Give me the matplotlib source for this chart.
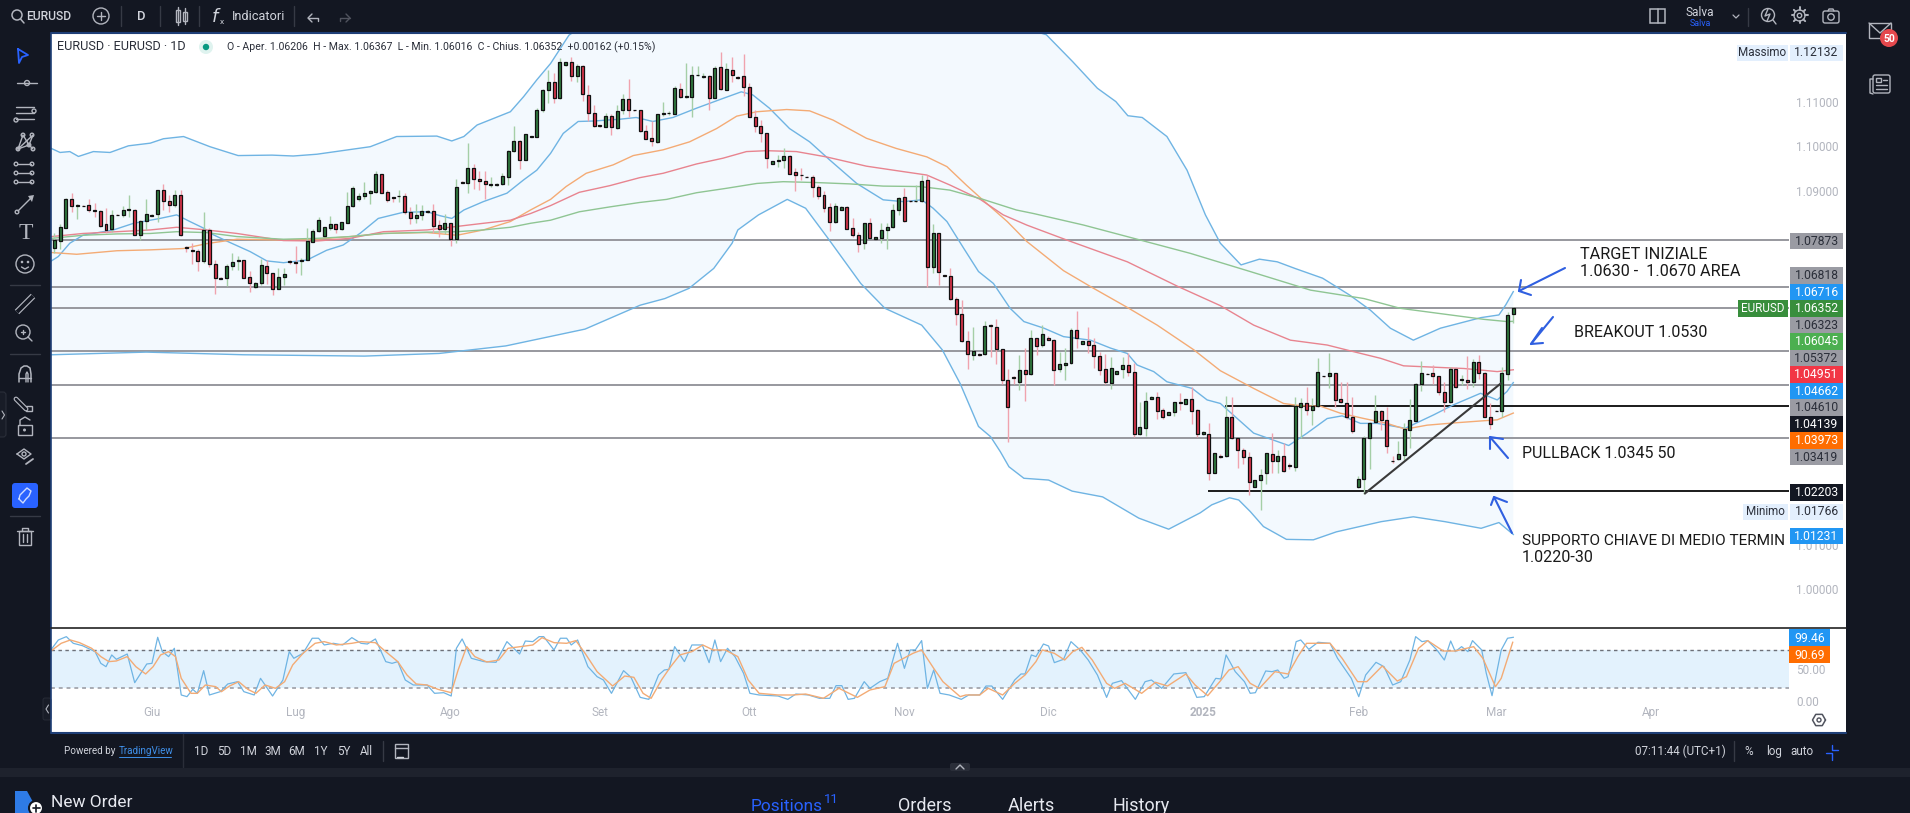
import numpy as np
import matplotlib
matplotlib.use("Agg")
import matplotlib.pyplot as plt
from matplotlib.patches import Rectangle, Circle, FancyBboxPatch, Polygon

plt.rcParams['font.family'] = ['Roboto', 'DejaVu Sans']

## OHLC, daily bars
opens = [1.0771,1.0787,1.0816,1.0882,1.0866,1.0866,1.0867,1.0857,1.0854,1.0824,
1.0812,1.0845,1.0845,1.0857,1.0857,1.0800,1.0831,1.0843,1.0848,1.0901,
1.0877,1.0868,1.0890,1.0772,1.0766,1.0764,1.0740,1.0811,1.0735,1.0703,
1.0702,1.0729,1.0740,1.0742,1.0704,1.0681,1.0690,1.0730,1.0713,1.0678,
1.0704,1.0741,1.0738,1.0740,1.0742,1.0784,1.0809,1.0798,1.0816,1.0824,
1.0812,1.0827,1.0865,1.0880,1.0887,1.0894,1.0897,1.0937,1.0896,1.0885,
1.0887,1.0888,1.0852,1.0839,1.0844,1.0851,1.0854,1.0822,1.0812,1.0826,
1.0790,1.0920,1.0918,1.0950,1.0927,1.0921,1.0913,1.0912,1.0915,1.0931,
1.0990,1.1011,1.0970,1.1020,1.1022,1.1083,1.1126,1.1146,1.1110,1.1183,
1.1190,1.1158,1.1182,1.1115,1.1076,1.1047,1.1044,1.1068,1.1042,1.1081,
1.1106,1.1082,1.1081,1.1035,1.1018,1.1010,1.1074,1.1075,1.1074,1.1129,
1.1112,1.1112,1.1160,1.1156,1.1159,1.1110,1.1178,1.1127,1.1172,1.1157,
1.1159,1.1135,1.1067,1.1046,1.1031,1.0961,1.0966,1.0970,1.0978,1.0941,
1.0935,1.0931,1.0931,1.0907,1.0891,1.0862,1.0830,1.0857,1.0863,1.0815,
1.0799,1.0781,1.0826,1.0790,1.0793,1.0810,1.0818,1.0857,1.0885,1.0877,
1.0876,1.0876,1.0923,1.0728,1.0803,1.0709,1.0708,1.0654,1.0620,1.0560,
1.0529,1.0531,1.0530,1.0597,1.0592,1.0541,1.0473,1.0478,1.0468,1.0494,
1.0485,1.0566,1.0550,1.0566,1.0562,1.0496,1.0506,1.0510,1.0584,1.0553,
1.0561,1.0552,1.0526,1.0496,1.0466,1.0485,1.0496,1.0507,1.0491,1.0349,
1.0364,1.0428,1.0433,1.0404,1.0394,1.0399,1.0422,1.0417,1.0428,1.0404,
1.0349,1.0351,1.0263,1.0301,1.0301,1.0389,1.0340,1.0315,1.0299,1.0231,
1.0245,1.0261,1.0305,1.0290,1.0300,1.0280,1.0276,1.0412,1.0421,1.0404,
1.0413,1.0481,1.0481,1.0487,1.0428,1.0419,1.0388,1.0231,1.0248,1.0342,
1.0377,1.0403,1.0381,1.0290,1.0293,1.0303,1.0359,1.0380,1.0464,1.0486,
1.0487,1.0480,1.0446,1.0423,1.0496,1.0473,1.0473,1.0467,1.0512,1.0487,
1.0389,1.0403,1.0402,1.0485,1.06206]
highs = [1.0805,1.0824,1.0883,1.0894,1.0869,1.0867,1.0882,1.0871,1.0857,1.0860,
1.0856,1.0846,1.0866,1.0889,1.0858,1.0833,1.0881,1.0846,1.0902,1.0915,
1.0890,1.0901,1.0901,1.0775,1.0781,1.0769,1.0851,1.0815,1.0743,1.0704,
1.0735,1.0760,1.0751,1.0743,1.0719,1.0694,1.0745,1.0743,1.0713,1.0724,
1.0724,1.0743,1.0775,1.0747,1.0815,1.0812,1.0841,1.0818,1.0842,1.0824,
1.0830,1.0897,1.0911,1.0894,1.0920,1.0901,1.0945,1.0937,1.0901,1.0886,
1.0901,1.0895,1.0863,1.0869,1.0867,1.0857,1.0870,1.0833,1.0848,1.0827,
1.0925,1.0921,1.1007,1.0961,1.0945,1.0945,1.0930,1.0916,1.0939,1.0992,
1.1046,1.1014,1.1028,1.1024,1.1086,1.1129,1.1172,1.1165,1.1199,1.1191,
1.1201,1.1186,1.1184,1.1138,1.1093,1.1048,1.1076,1.1073,1.1093,1.1118,
1.1153,1.1083,1.1083,1.1048,1.1056,1.1074,1.1101,1.1080,1.1137,1.1144,
1.1187,1.1181,1.1181,1.1165,1.1161,1.1181,1.1212,1.1187,1.1201,1.1158,
1.1208,1.1142,1.1082,1.1059,1.1031,1.0967,1.0980,1.0995,1.0980,1.0952,
1.0952,1.0932,1.0935,1.0912,1.0899,1.0871,1.0871,1.0864,1.0865,1.0837,
1.0807,1.0827,1.0837,1.0794,1.0826,1.0826,1.0870,1.0886,1.0906,1.0878,
1.0912,1.0935,1.0935,1.0824,1.0803,1.0710,1.0726,1.0660,1.0653,1.0583,
1.0591,1.0532,1.0605,1.0599,1.0609,1.0541,1.0496,1.0481,1.0528,1.0544,
1.0586,1.0568,1.0596,1.0572,1.0564,1.0536,1.0544,1.0589,1.0629,1.0560,
1.0592,1.0566,1.0536,1.0531,1.0523,1.0493,1.0525,1.0532,1.0511,1.0422,
1.0446,1.0435,1.0444,1.0408,1.0400,1.0423,1.0443,1.0428,1.0457,1.0406,
1.0357,1.0374,1.0306,1.0305,1.0436,1.0433,1.0342,1.0318,1.0310,1.0246,
1.0272,1.0306,1.0353,1.0314,1.0329,1.0284,1.0433,1.0431,1.0457,1.0431,
1.0521,1.0482,1.0532,1.0487,1.0468,1.0467,1.0433,1.0255,1.0346,1.0378,
1.0439,1.0404,1.0412,1.0301,1.0335,1.0374,1.0428,1.0466,1.0515,1.0487,
1.0506,1.0481,1.0468,1.0501,1.0502,1.0483,1.0527,1.0519,1.0528,1.0489,
1.0419,1.0404,1.0502,1.0626,1.06367]
lows = [1.0758,1.0767,1.0815,1.0852,1.0835,1.0864,1.0852,1.0841,1.0818,1.0803,
1.0807,1.0844,1.0841,1.0841,1.0799,1.0788,1.0811,1.0842,1.0830,1.0857,
1.0852,1.0863,1.0797,1.0762,1.0734,1.0719,1.0737,1.0728,1.0666,1.0700,
1.0684,1.0720,1.0720,1.0702,1.0670,1.0679,1.0687,1.0689,1.0664,1.0677,
1.0687,1.0735,1.0713,1.0709,1.0742,1.0784,1.0807,1.0796,1.0811,1.0805,
1.0811,1.0826,1.0863,1.0877,1.0882,1.0870,1.0895,1.0894,1.0875,1.0875,
1.0873,1.0848,1.0824,1.0827,1.0833,1.0850,1.0803,1.0796,1.0802,1.0775,
1.0782,1.0918,1.0894,1.0903,1.0901,1.0882,1.0909,1.0911,1.0912,1.0912,
1.0988,1.0949,1.0969,1.1020,1.1022,1.1078,1.1097,1.1098,1.1106,1.1181,
1.1148,1.1146,1.1103,1.1056,1.1043,1.1044,1.1043,1.1026,1.1040,1.1073,
1.1065,1.1080,1.1033,1.1016,1.1001,1.1007,1.1068,1.1071,1.1073,1.1110,
1.1110,1.1067,1.1159,1.1154,1.1083,1.1108,1.1127,1.1126,1.1146,1.1153,
1.1113,1.1065,1.1032,1.1009,1.0950,1.0960,1.0954,1.0950,1.0937,1.0900,
1.0924,1.0930,1.0886,1.0880,1.0852,1.0809,1.0826,1.0857,1.0812,1.0796,
1.0762,1.0769,1.0792,1.0790,1.0781,1.0768,1.0816,1.0844,1.0830,1.0875,
1.0875,1.0875,1.0683,1.0713,1.0687,1.0707,1.0653,1.0596,1.0557,1.0496,
1.0517,1.0527,1.0528,1.0523,1.0508,1.0463,1.0333,1.0463,1.0449,1.0425,
1.0483,1.0528,1.0547,1.0562,1.0461,1.0491,1.0472,1.0509,1.0544,1.0553,
1.0532,1.0498,1.0483,1.0463,1.0452,1.0485,1.0476,1.0480,1.0344,1.0348,
1.0345,1.0428,1.0385,1.0383,1.0394,1.0391,1.0404,1.0417,1.0373,1.0344,
1.0348,1.0246,1.0263,1.0295,1.0299,1.0339,1.0274,1.0282,1.0212,1.0231,
1.0178,1.0237,1.0263,1.0261,1.0265,1.0270,1.0266,1.0342,1.0392,1.0371,
1.0412,1.0479,1.0455,1.0412,1.0419,1.0385,1.0352,1.0229,1.0214,1.0272,
1.0375,1.0359,1.0306,1.0284,1.0291,1.0291,1.0318,1.0379,1.0448,1.0485,
1.0464,1.0438,1.0400,1.0421,1.0455,1.0461,1.0452,1.0457,1.0474,1.0388,
1.0361,1.0401,1.0389,1.0471,1.06016]
closes = [1.0788,1.0817,1.0882,1.0865,1.0867,1.0865,1.0856,1.0854,1.0821,1.0811,
1.0845,1.0844,1.0855,1.0858,1.0800,1.0831,1.0846,1.0845,1.0901,1.0876,
1.0868,1.0890,1.0799,1.0771,1.0764,1.0741,1.0811,1.0735,1.0702,1.0701,
1.0730,1.0739,1.0743,1.0703,1.0690,1.0690,1.0731,1.0713,1.0678,1.0704,
1.0711,1.0738,1.0736,1.0743,1.0785,1.0809,1.0833,1.0817,1.0824,1.0812,
1.0829,1.0865,1.0905,1.0888,1.0894,1.0898,1.0937,1.0895,1.0878,1.0884,
1.0888,1.0851,1.0839,1.0845,1.0854,1.0854,1.0821,1.0812,1.0826,1.0790,
1.0909,1.0918,1.0952,1.0927,1.0921,1.0915,1.0914,1.0915,1.0932,1.0990,
1.1011,1.0970,1.1027,1.1023,1.1082,1.1127,1.1146,1.1110,1.1191,1.1190,
1.1159,1.1182,1.1117,1.1076,1.1046,1.1045,1.1068,1.1043,1.1080,1.1106,
1.1083,1.1081,1.1034,1.1017,1.1012,1.1073,1.1075,1.1076,1.1131,1.1112,
1.1114,1.1160,1.1161,1.1159,1.1110,1.1176,1.1129,1.1174,1.1160,1.1154,
1.1135,1.1067,1.1046,1.1031,1.0973,1.0967,1.0970,1.0978,1.0938,1.0935,
1.0934,1.0930,1.0907,1.0888,1.0861,1.0830,1.0866,1.0863,1.0814,1.0799,
1.0780,1.0826,1.0793,1.0794,1.0811,1.0818,1.0857,1.0884,1.0831,1.0876,
1.0877,1.0921,1.0728,1.0803,1.0717,1.0708,1.0654,1.0620,1.0559,1.0530,
1.0537,1.0528,1.0595,1.0593,1.0541,1.0473,1.0412,1.0477,1.0495,1.0485,
1.0566,1.0549,1.0575,1.0563,1.0495,1.0508,1.0510,1.0584,1.0566,1.0560,
1.0552,1.0526,1.0494,1.0468,1.0500,1.0492,1.0507,1.0491,1.0349,1.0365,
1.0425,1.0434,1.0403,1.0389,1.0400,1.0422,1.0421,1.0428,1.0403,1.0351,
1.0354,1.0263,1.0306,1.0299,1.0389,1.0340,1.0315,1.0299,1.0241,1.0246,
1.0257,1.0306,1.0290,1.0301,1.0266,1.0278,1.0413,1.0421,1.0404,1.0414,
1.0489,1.0480,1.0487,1.0426,1.0422,1.0388,1.0357,1.0248,1.0342,1.0375,
1.0403,1.0381,1.0324,1.0288,1.0304,1.0361,1.0381,1.0464,1.0487,1.0485,
1.0480,1.0446,1.0423,1.0496,1.0457,1.0474,1.0467,1.0512,1.0488,1.0389,
1.0372,1.0402,1.0487,1.0618,1.06352]

## Bollinger bands and moving averages: bar position, value
upper_bar = [-0.5,1,2.7,4.2,6.8,9.7,12.9,16.7,19,22.5,27.1,32,37.9,41.6,45.7,55,59.6,66.6,69.2,71.3,73.6,79.4,81.7,84,86.4,89.6,
100,130,160,172.7,177.3,181.6,184.8,186.9,189.4,193.7,197.2,200.4,203,206.6,209.8,212.9,216,220.8,225.5,229.1,232.6,236.6,241.3,248.4,251.5,252.7,254]
upper_val = [1.0995,1.0986,1.0988,1.0977,1.0988,1.0986,1.1001,1.1007,1.1017,1.1022,1.0999,1.0979,1.0980,1.0978,1.0982,1.0999,1.1022,1.1023,1.1012,1.1022,1.1048,1.1078,1.1112,1.1150,1.1187,1.1251,
1.1340,1.1360,1.1300,1.1252,1.1191,1.1131,1.1101,1.1069,1.1065,1.1022,1.0946,1.0845,1.0781,1.0732,1.0745,1.0739,1.0724,1.0702,1.0664,1.0630,1.0589,1.0562,1.0589,1.0613,1.0619,1.0642,1.06716]
lower_bar = [-0.5,16,33,54,67,78.6,92.4,102,106.3,110.5,114.8,118,119,122.6,127.6,130.8,134.7,140.4,144.6,151,154.6,157.7,160.9,163,164.7,166.2,168.8,173.1,177.2,182.5,188.8,194,199.5,201.5,204.6,206.2,208.2,210.5,214.5,219.2,223.2,231,236.6,242.1,248.4,251.5,254]
lower_val = [1.0529,1.0535,1.0529,1.0526,1.0532,1.0549,1.0587,1.0641,1.0656,1.0679,1.0724,1.0781,1.0811,1.0845,1.0880,1.0860,1.0792,1.0690,1.0634,1.0596,1.0540,1.0464,1.0367,1.0344,1.0310,1.0276,1.0250,1.0246,1.0221,1.0208,1.0160,1.0135,1.0172,1.0190,1.0206,1.0201,1.0175,1.0141,1.0112,1.0111,1.0129,1.0152,1.0163,1.0152,1.0137,1.0150,1.01231]
basis_bar = [-0.5,0.7,2.7,5,10.3,13.8,18.4,21.3,23.6,26,27.7,30,34.1,37,39.9,44,47.4,50.3,53.3,56.4,60.8,64.9,67.2,69.2,71.3,74.7,78.8,81.7,84,86.4,88.6,91.2,93.8,98.4,101.3,104.2,107.7,111.8,116.4,119.6,121.6,124.5,128,131.5,135,139.7,144.3,147.8,151,153,155.4,158.3,160.9,163.5,166.4,168.8,172.3,175.7,180.4,183.9,186.8,188.5,191.4,193.7,198.1,200.7,203,208.8,214.9,218.1,221.6,224.2,227.4,230.3,235.2,240.1,243.6,248.3,251.2,252.9,254]
basis_val = [1.0741,1.0751,1.0781,1.0799,1.0811,1.0826,1.0837,1.0845,1.0830,1.0815,1.0800,1.0786,1.0762,1.0741,1.0737,1.0743,1.0765,1.0777,1.0804,1.0837,1.0851,1.0852,1.0843,1.0837,1.0856,1.0875,1.0894,1.0924,1.0946,1.0984,1.1029,1.1056,1.1057,1.1061,1.1065,1.1056,1.1065,1.1086,1.1108,1.1123,1.1116,1.1086,1.1040,1.1010,1.0969,1.0916,1.0879,1.0875,1.0879,1.0860,1.0830,1.0770,1.0717,1.0690,1.0634,1.0604,1.0589,1.0570,1.0562,1.0544,1.0532,1.0506,1.0491,1.0468,1.0453,1.0427,1.0419,1.0352,1.0324,1.0352,1.0385,1.0391,1.0374,1.0374,1.0363,1.0393,1.0416,1.0442,1.0427,1.0446,1.04662]
orange_bar = [-0.5,3.9,10.9,16.7,22.5,26.5,31.8,39.9,45.7,51.5,57.3,64.9,70.1,74.7,79.4,82.9,86.4,89.1,92.6,97.3,100.8,106,110.6,115.3,118.8,122.3,127.5,131.5,135.6,141.4,146.6,151.9,155.4,158.8,162.3,165.9,169.3,175.7,180.4,186.8,192,198.4,203,208.8,214,216.9,220.4,223.9,228,232,235.2,239,243.6,248.9,251.2,254]
orange_val = [1.0760,1.0756,1.0764,1.0766,1.0769,1.0780,1.0790,1.0788,1.0790,1.0796,1.0803,1.0805,1.0799,1.0811,1.0830,1.0856,1.0880,1.0909,1.0939,1.0958,1.0979,1.0992,1.1010,1.1040,1.1068,1.1078,1.1083,1.1080,1.1059,1.1018,1.0995,1.0976,1.0954,1.0912,1.0871,1.0830,1.0785,1.0719,1.0683,1.0636,1.0596,1.0540,1.0493,1.0453,1.0419,1.0414,1.0413,1.0397,1.0385,1.0374,1.0361,1.0370,1.0375,1.0380,1.0382,1.03973]
red_bar = [-0.5,5,10.9,16.7,21.3,26.5,31.8,39.9,45.7,51.5,57.3,64.9,69.5,74.7,79.4,82.9,86.4,91.4,96.7,101.9,106,111.8,116.4,120.5,124,129.2,134.4,141.4,146.6,151.9,156,161.2,165.2,169.3,176.3,186.8,195.5,203,208.8,215.2,221.6,226.2,230.9,234.9,240.1,245.4,251.2,254]
red_val = [1.0796,1.0803,1.0807,1.0811,1.0817,1.0811,1.0803,1.0787,1.0786,1.0792,1.0807,1.0811,1.0818,1.0826,1.0833,1.0848,1.0866,1.0896,1.0911,1.0929,1.0939,1.0960,1.0973,1.0988,1.0990,1.0988,1.0976,1.0955,1.0945,1.0935,1.0912,1.0880,1.0845,1.0822,1.0788,1.0739,1.0684,1.0640,1.0596,1.0562,1.0551,1.0536,1.0521,1.0504,1.0501,1.0498,1.0491,1.04951]
green_bar = [-0.5,5,10.9,16.7,21.3,26.5,31.8,39.9,45.7,51.5,57.3,64.9,70.1,74.7,79.4,82.9,86.4,91.4,96.7,101.9,106.6,111.8,117,122.3,126.9,132.7,138.5,144.3,150.7,155.9,161.7,167.5,170.5,179.2,189.1,197.8,208.2,218.7,228,234.3,240.7,248.9,252.9,254]
green_val = [1.0792,1.0799,1.0802,1.0803,1.0807,1.0805,1.0796,1.0790,1.0792,1.0796,1.0803,1.0806,1.0807,1.0811,1.0817,1.0826,1.0833,1.0852,1.0863,1.0873,1.0880,1.0895,1.0905,1.0916,1.0920,1.0918,1.0915,1.0910,1.0909,1.0901,1.0880,1.0856,1.0848,1.0822,1.0788,1.0758,1.0717,1.0675,1.0656,1.0634,1.0623,1.0609,1.0604,1.06045]

## stochastic RSI
k_bar = [-0.6,0.7,2.1,3.3,4.9,7.1,8.1,9,10,10.8,12.7,14,16.1,17,18,18.8,19.9,20.9,22.1,23.1,24.1,24.9,26,27,28.9,30.2,31.9,33,34.8,35.9,38,39.8,40.9,41.7,43.3,44.9,46,47,48.6,50.2,51.8,53.4,54.5,55.9,57.7,58.8,59.8,61.1,62.5,64.9,66.2,67.8,69.1,70,71,72.6,74.8,76.9,78.8,81,82,83.3,84.4,85.2,87,88.1,89.2,90,91.1,92.9,94.5,95.6,97,99.1,100.4,102,103.5,105.2,106.2,107,108,109.7,111,112.8,114,115,116,117.2,118.5,120,121.1,122.7,126,127.7,129.1,131.3,133.2,135,136.1,137.1,138.2,139.3,141,142,143.7,145.1,146.8,148,149,149.9,151,152,153.1,154.2,155.8,
157.9,159.2,161.1,162.2,163.2,165.1,167.2,168.3,169,170.1,170.9,172.2,173.1,174.1,175.7,177,178.6,180,181.6,183.2,184.2,185.8,188.2,189.9,191,192.8,194.9,197,198.9,200.2,202.2,203.1,204,205.6,207.2,208.2,209.1,210.9,212,213,214.1,214.8,216.2,217,218.4,220,222.1,223.4,224.8,225.8,227.1,228.3,230.1,231.5,233,234.4,236,237,238.1,239.1,240.7,242,243.1,243.9,245,246.1,246.9,248.5,249.3,250.3,251.9,253,254]
k_val = [79.7,95.3,100.5,90.1,86.4,77.1,58.8,53.6,71.9,65.1,73.4,28.6,57.8,58.8,99.5,77.1,69.3,82.3,9.4,6.8,18.2,12,47.4,9.4,14.6,26.6,30.2,14.6,9.4,35.4,7.8,32.8,77.1,66.7,74.5,98,98,87.5,90.1,87.5,99,90.1,89,96.9,61.5,58.8,61.5,32.8,25,25,12,13,7.8,82.3,96.9,66.7,61.5,60.4,92.7,73.4,93.7,92.7,100.5,100.5,79.7,98,98,87.5,95.3,53.6,38,32.8,12,47.4,37,5.7,2.6,40.6,48.4,49.5,84.9,61.5,87.5,87.5,59.9,95.3,61.5,82.3,69.3,43.2,12,9.4,7.8,2.6,10.9,9.4,4.2,4.2,24,24,2.6,4.2,30.2,19.8,30.2,35.4,90.1,51,79.7,79.7,94.3,19.8,48.4,12,9.4,
2.6,9.4,9.4,23.4,23.4,2.6,32.8,42.2,42.2,71.9,69.3,89,85.9,59.9,65.1,92.7,79.7,64,40.6,5.7,27.6,31.8,2.6,30.2,32.8,19.8,42.2,44.3,5.7,6.8,35.4,34.4,71.9,45.8,30.2,12,13,46.9,45.8,48.4,35.4,38,92.7,95.3,80.7,91.7,90.1,66.7,48.4,35.4,6.8,40.6,60.4,53.6,25,30.2,64,100.5,92.7,94.3,79.7,64,93.7,77.1,84.9,77.1,94.3,79.7,43.2,8.3,79.7,98,99.46]
d_bar = [-0.6,1.2,2.8,4.4,6.5,8.1,9.5,10.8,12.7,14.2,15.9,17.2,18.5,19.9,21.1,22.1,23.8,24.9,26.3,28.1,29.1,30.5,32.1,33.7,35.1,36.7,38.5,40.1,41.5,43.3,45.4,47,49.1,51.8,53.4,55.9,57.7,59.8,61.4,63,64.9,66.8,69.1,70.3,71.8,73.2,75.3,77.4,79,81.2,83.3,84.9,87,89.2,90.8,92.4,94.5,97.2,99.3,100.9,102.5,103.9,105.7,107.3,108.9,111,112.9,114.7,116.8,119,120.8,122.7,126,128.6,130.8,133.9,136.6,139.8,142,144.6,146.2,149.5,151,153.1,154.7,157.7,
158.7,161.1,162.6,165.1,167.2,169,170.9,172,174.1,175.9,177.3,178.9,180.7,183.2,184.6,186.4,189.3,191.7,193.8,197,198.6,200.8,202.9,204.5,206.1,208.2,209.8,212.5,214.8,216.5,218,222.1,224.2,226.9,228.5,231.2,233.8,235.4,237.5,239.1,241.8,243.9,247.1,248.7,250.9,251.9,253.9]
d_val = [78.1,90.1,95.3,91.1,82.3,69.3,61.5,62.5,69.3,53.6,42.2,53.6,71.9,77.1,69.3,35.4,12,12,25,22.4,14.6,23.4,30.2,18.2,12,25,19.8,30.2,56.3,74.5,90.1,92.7,87.5,90.1,92.7,91.1,77.1,61.5,40.6,26.6,25,18.2,13,48.4,84.9,69.3,60.9,64,82.3,84.9,87.5,98.9,91.1,90.1,94.3,74.5,45.8,23.4,39,37,12,4.2,32.8,53.6,71.9,77.1,87.5,79.7,79.7,69.3,32.8,12,9.4,9.4,10.9,4.2,19.8,5.7,17.2,22.4,58.8,74.5,79.7,51,30.2,6.8,
9.4,9.4,19.8,9.4,27.6,40.6,61.5,79.7,74.5,64,77.1,83.8,64,27.6,19.8,27.6,12,29.2,23.4,42.2,25,8.3,30.2,48.4,53.6,27.6,19.8,45.8,42.2,69.3,90.1,90.1,66.7,30.2,30.2,54.7,31.2,38,82.3,94.3,78.1,78.1,84.9,66.7,22.4,35.4,91.7]

## levels and labels
level_prices = [1.07873, 1.06818, 1.06352, 1.05372, 1.04610, 1.03419]
support_prices = [1.04139, 1.02203]
support_start = [203.9, 201]
trend_bars = [228.2, 251.8]
trend_prices = [1.0216, 1.0464]
price_ticks = [1.00, 1.01, 1.09, 1.10, 1.11]
month_bars = [17, 42, 69, 95, 121, 148, 173, 200, 227, 251, 278]
month_labels = ['Giu', 'Lug', 'Ago', 'Set', 'Ott', 'Nov', 'Dic', '2025', 'Feb', 'Mar', 'Apr']
tag_texts = ['1.07873', '1.06818', '1.06716', '1.06352', '1.06323', '1.06045', '1.05372', '1.04951', '1.04662', '1.04610', '1.04139', '1.03973', '1.03419', '1.02203', '1.01231']
tag_py = [241, 275.7, 292, 308.7, 325, 341.7, 358, 374.7, 391.3, 407.7, 424.3, 440.7, 457, 492.7, 536]
tag_bg = ['#9a9ba3', '#9a9ba3', '#2196f3', '#388e3c', '#9a9ba3', '#4caf50', '#9a9ba3', '#f23645', '#2196f3', '#9a9ba3', '#131722', '#ff6d00', '#9a9ba3', '#131722', '#2196f3']
tag_fg = ['#2a2e39', '#2a2e39', 'white', 'white', '#2a2e39', 'white', '#2a2e39', 'white', 'white', '#2a2e39', 'white', 'white', '#2a2e39', 'white', 'white']

W, H = 1910, 813
DARK = '#131722'
GREY = '#b2b5be'
BLUE = '#2f5fe0'

def box(px_left, py_top, px_right, py_bottom):
    return [px_left / W, 1 - py_bottom / H, (px_right - px_left) / W, (py_bottom - py_top) / H]

fig = plt.figure(figsize=(W / 100, H / 100), dpi=100, facecolor=DARK)

# white backing of the chart
bg = fig.add_axes([0, 0, 1, 1], zorder=0)
bg.set_xlim(0, W)
bg.set_ylim(H, 0)
bg.axis('off')
bg.add_patch(Rectangle((51, 34), 1795, 698, color='white', lw=0))
bg.add_patch(Rectangle((0, 768), 1910, 9, color='#1e222d', lw=0))

## main price panel
ax = fig.add_axes(box(51, 34, 1789, 628), zorder=1)
ax.set_facecolor('white')
ax.set_xlim(-0.575, 302)
ax.set_ylim(0.99118, 1.12536)
for s in ax.spines.values():
    s.set_visible(False)

ax.fill(np.r_[upper_bar, lower_bar[::-1]], np.r_[upper_val, lower_val[::-1]], color='#f3f9fe', lw=0, zorder=1)
for p in level_prices:
    ax.axhline(p, color='#97989e', lw=1.4, zorder=2)
for p, b in zip(support_prices, support_start):
    ax.plot([b, 302], [p, p], color='#1a1a1a', lw=1.4, zorder=2)

ax.plot(upper_bar, upper_val, color='#6fb4e3', lw=1, zorder=3)
ax.plot(lower_bar, lower_val, color='#6fb4e3', lw=1, zorder=3)
ax.plot(basis_bar, basis_val, color='#6fb4e3', lw=1, zorder=3)
ax.plot(orange_bar, orange_val, color='#f3ab75', lw=1, zorder=3)
ax.plot(red_bar, red_val, color='#e8848f', lw=1, zorder=3)
ax.plot(green_bar, green_val, color='#8fc593', lw=1, zorder=3)

bars = np.arange(len(opens))
o = np.array(opens)
c = np.array(closes)
up = c >= o
ax.vlines(bars[up], np.array(lows)[up], np.array(highs)[up], color='#a5cfa7', lw=1, zorder=4)
ax.vlines(bars[~up], np.array(lows)[~up], np.array(highs)[~up], color='#f0a3ae', lw=1, zorder=4)
ax.bar(bars, np.abs(c - o), bottom=np.minimum(o, c), width=0.52,
       color=np.where(up, '#2f7a3e', '#d8344a'), edgecolor='#111111', lw=0.9, zorder=5)
ax.plot(trend_bars, trend_prices, color='#3a3a3a', lw=1.5, zorder=6)

ax.yaxis.tick_right()
ax.set_yticks(price_ticks)
ax.set_yticklabels(['%.5f' % p for p in price_ticks], color=GREY, fontsize=8.5)
ax.tick_params(axis='y', length=0, pad=5)
ax.set_xticks([])

## stochastic panel
ax2 = fig.add_axes(box(51, 628, 1789, 732), zorder=1)
ax2.set_facecolor('white')
ax2.set_xlim(-0.575, 302)
ax2.set_ylim(-48.4, 114)
for s in ax2.spines.values():
    s.set_visible(False)
ax2.axhspan(20, 80, color='#e3f2fd', lw=0)
ax2.axhline(80, color='#6d7078', lw=1, ls=(0, (2.5, 2.5)))
ax2.axhline(20, color='#a8abb2', lw=1.4, ls=(0, (2, 2)))
ax2.plot(k_bar, k_val, color='#6fb4e3', lw=0.9)
ax2.plot(d_bar, d_val, color='#f3ab75', lw=1)
ax2.yaxis.tick_right()
ax2.set_yticks([0, 50])
ax2.set_yticklabels(['0.00', '50.00'], color=GREY, fontsize=8.5)
ax2.tick_params(axis='y', length=0, pad=5)
ax2.set_xticks(month_bars)
ax2.set_xticklabels(month_labels, color=GREY, fontsize=8.5)
ax2.get_xticklabels()[7].set_fontweight('bold')
ax2.tick_params(axis='x', length=0, pad=-19)

## everything on top, drawn in screen pixels
ov = fig.add_axes([0, 0, 1, 1], zorder=5)
ov.set_xlim(0, W)
ov.set_ylim(H, 0)
ov.axis('off')
ov.patch.set_alpha(0)

def txt(x, y, s, size=9, color='#d1d4dc', ha='left', **kw):
    return ov.text(x, y, s, fontsize=size, color=color, ha=ha, va='center', **kw)

def ln(xs, ys, color='#b2b5be', lw=1, **kw):
    ov.plot(xs, ys, color=color, lw=lw, solid_capstyle='round', **kw)

def circ(x, y, r, color='#b2b5be', lw=1):
    ov.add_patch(Circle((x, y), r, fill=False, edgecolor=color, lw=lw))

def rect(x, y, w, h, color='#b2b5be', lw=1, fill=False):
    ov.add_patch(Rectangle((x, y), w, h, fill=fill, edgecolor=color if not fill else 'none', facecolor=color if fill else 'none', lw=lw))

# chart frame
ln([51, 1846], [33.5, 33.5], color='#1f3f77', lw=1.5)
ln([50.5, 50.5], [34, 732], color='#1f3f77', lw=1.2)
ln([51, 1846], [732.5, 732.5], color='#1f3f77', lw=1.5)
ln([51, 1846], [628, 628], color='#222222', lw=1.2)

# legend
txt(57, 47, 'EURUSD · EURUSD · 1D', 9.1, '#2a2e39')
ov.add_patch(Circle((206, 47), 7, color='#dff3ef', lw=0))
ov.add_patch(Circle((206, 47), 3.2, color='#089981', lw=0))
txt(227, 47, 'O - Aper. 1.06206  H - Max. 1.06367  L - Min. 1.06016  C - Chius. 1.06352  +0.00162 (+0.15%)', 7.6, '#2a2e39')

# drawn annotations
txt(1579.5, 254, 'TARGET INIZIALE', 11.7, '#1a1a1a')
txt(1579.5, 271, '1.0630 -  1.0670 AREA', 11.7, '#1a1a1a')
txt(1573.6, 332, 'BREAKOUT 1.0530', 11.5, '#1a1a1a')
txt(1521.6, 453, 'PULLBACK 1.0345 50', 11.5, '#1a1a1a')
txt(1521.6, 541, 'SUPPORTO CHIAVE DI MEDIO TERMIN', 11.1, '#1a1a1a')
txt(1521.6, 557, '1.0220-30', 11.5, '#1a1a1a')

def hand_arrow(x0, y0, x1, y1, hx0, hy0, hx1, hy1):
    ln([x0, x1], [y0, y1], color=BLUE, lw=1.5)
    ln([hx0, x1, hx1], [hy0, y1, hy1], color=BLUE, lw=1.5)

hand_arrow(1565, 268, 1519, 291, 1521, 280, 1531, 295)
hand_arrow(1553, 317, 1531, 344, 1542, 328, 1543, 343)
hand_arrow(1508, 458, 1490, 437, 1490, 449, 1503, 439)
hand_arrow(1512, 533, 1494, 497, 1491, 505, 1507, 502)

# price axis tags
for s, y, b, f in zip(tag_texts, tag_py, tag_bg, tag_fg):
    rect(1790, y - 8.3, 53, 16.6, color=b, fill=True)
    txt(1816.5, y, s, 8.7, f, ha='center')
rect(1737, 45, 51, 16.5, color='#e3effd', fill=True)
rect(1790, 45, 53, 16.5, color='#e3effd', fill=True)
txt(1762.5, 53, 'Massimo', 8.4, '#2a2e39', ha='center')
txt(1816.5, 53, '1.12132', 8.7, '#2a2e39', ha='center')
rect(1743, 503.5, 45, 16.5, color='#e3effd', fill=True)
rect(1790, 503.5, 53, 16.5, color='#e3effd', fill=True)
txt(1765.5, 511.7, 'Minimo', 8.4, '#2a2e39', ha='center')
txt(1816.5, 511.7, '1.01766', 8.7, '#2a2e39', ha='center')
rect(1738, 300.4, 50, 16.6, color='#388e3c', fill=True)
txt(1763, 308.7, 'EURUSD', 8.4, 'white', ha='center')
rect(1789, 629, 41, 17, color='#2196f3', fill=True)
rect(1789, 646, 41, 17, color='#ff6d00', fill=True)
txt(1810, 638, '99.46', 8.7, 'white', ha='center')
txt(1810, 655, '90.69', 8.7, 'white', ha='center')
# settings hexagon on the time axis
ang = np.radians(np.arange(0, 361, 60))
ln(1819 + 6.5 * np.cos(ang), 720 + 6.5 * np.sin(ang), color='#50535e', lw=1.1)
circ(1819, 720, 2, color='#50535e')
# collapse tab of the time axis
ov.add_patch(FancyBboxPatch((43, 698), 8, 22, boxstyle='round,pad=0,rounding_size=2', facecolor='#181c27', edgecolor='#2a2e39', lw=0.6))
ln([48.5, 46, 48.5], [705, 709, 713], lw=0.8)

## top toolbar
circ(17, 15, 5, lw=1.1)
ln([20.5, 24], [19, 23], lw=1.1)
txt(26, 16, 'EURUSD', 8.7, '#d1d4dc', fontweight='medium')
circ(101, 16, 8)
ln([97, 105], [16, 16])
ln([101, 101], [12, 20])
txt(141, 16, 'D', 9.4, ha='center', fontweight='medium')
rect(175.5, 10, 4, 12)
ln([177.5, 177.5], [7, 25])
rect(182.5, 12, 4, 9)
ln([184.5, 184.5], [8, 24])
for x in [121, 160, 199, 294]:
    ln([x, x], [6, 26], color='#363a45')
txt(216, 17, r'$f$', 13, '#d1d4dc', ha='center')
txt(222, 22, 'x', 6, '#d1d4dc', ha='center')
txt(232, 16, 'Indicatori', 9.2)
ln([308, 318, 318], [18, 18, 21])
ln([312, 308, 312], [14, 18, 22])
ln([350, 340, 340], [18, 18, 21], color='#50535e')
ln([346, 350, 346], [14, 18, 22], color='#50535e')

rect(1650, 9, 15, 14, lw=1.1)
ln([1657.5, 1657.5], [9, 23], lw=1.1)
txt(1700, 13, 'Salva', 8.6, ha='center')
txt(1700, 24, 'Salva', 6.4, '#2962ff', ha='center')
ln([1733, 1736, 1739], [15, 18, 15], lw=0.9)
ln([1748, 1748], [8, 26], color='#363a45')
circ(1768, 15, 6.5)
ln([1768, 1765, 1770, 1767], [9, 16, 14, 21])
ln([1773, 1776], [20, 24])
for a in np.arange(0, 360, 45):
    ln([1799.5 + 5.5 * np.cos(np.radians(a)), 1799.5 + 8 * np.cos(np.radians(a))],
       [15.5 + 5.5 * np.sin(np.radians(a)), 15.5 + 8 * np.sin(np.radians(a))], lw=1.4)
circ(1799.5, 15.5, 5.5)
circ(1799.5, 15.5, 2.2)
ov.add_patch(FancyBboxPatch((1823, 11), 16, 12, boxstyle='round,pad=0,rounding_size=2', fill=False, edgecolor=GREY, lw=1))
ln([1828, 1829, 1833, 1834], [11, 9, 9, 11])
circ(1831, 17, 3.2)

## right strip
rect(1869, 23, 22, 15)
ln([1869, 1880, 1891], [23, 33, 23])
ov.add_patch(Circle((1889, 38), 9, color='#e5484d', lw=0))
txt(1889, 38.5, '50', 7.5, 'white', ha='center', fontweight='bold')
ov.add_patch(FancyBboxPatch((1873, 75), 17, 18, boxstyle='round,pad=0,rounding_size=2', fill=False, edgecolor=GREY, lw=1))
ln([1873, 1870, 1870, 1873], [79, 79, 93, 94])
rect(1876, 78, 5, 4)
for y in [80, 85, 89]:
    ln([1883 if y == 80 else 1876, 1887], [y, y])

## left toolbar
ln([18, 28, 22, 19, 18], [49, 55, 57, 63, 49], color='#2962ff', lw=1.3)
ln([17, 37], [83, 83])
ov.add_patch(Circle((27, 83), 2.5, facecolor=DARK, edgecolor=GREY, lw=1))
for y in [107, 113, 119]:
    ln([16, 34], [y, y])
circ(34, 111, 2)
circ(16, 120, 2)
ln([18, 23, 29, 33, 18], [149, 135, 145, 135, 149])
ln([18, 29, 33], [149, 145, 149])
for x, y in [(18, 149), (23, 135), (29, 145), (32, 135), (33, 149)]:
    circ(x, y, 1.8)
for y in [164, 173, 182]:
    ln([18, 31], [y, y])
    circ(16, y, 1.8)
    circ(32, y, 1.8)
ln([18, 32], [211, 197])
circ(17, 212, 1.8)
ov.add_patch(Polygon([[28, 196], [34, 195], [32, 202]], color=GREY, lw=0))
txt(26, 233, 'T', 17, GREY, ha='center', family=['Liberation Serif'])
circ(25, 264, 9)
circ(22, 262, 0.6)
circ(28, 262, 0.6)
ln([21.5, 25, 28.5], [267, 269, 267])
ln([10, 40], [285, 285], color='#363a45')
ov.plot([17, 33], [312, 296], color=GREY, lw=4.5, solid_capstyle='butt')
ov.plot([17, 33], [312, 296], color=DARK, lw=2.8, solid_capstyle='butt')
circ(23, 332, 7)
ln([21, 25], [332, 332])
ln([23, 23], [330, 334])
ln([28, 32], [337, 341])
ln([10, 40], [354, 354], color='#363a45')
ln([19, 19, 21, 24, 27, 30, 31, 31], [382, 374, 368, 366, 366, 368, 374, 382], lw=1.1)
ln([26, 26, 27, 28, 28], [382, 374, 372, 374, 382])
ln([19, 31], [378, 378])
ln([16, 26], [399, 409], lw=3.5)
ln([16, 26], [399, 409], color=DARK, lw=1.8)
rect(26, 406, 6, 5)
rect(18, 425, 14, 10)
ln([20, 20, 25, 30], [425, 420, 417, 420])
circ(24.5, 430, 0.8)
ln([17, 24, 31, 24, 17], [454, 449, 454, 459, 454])
circ(24, 454, 2)
ln([26, 33], [464, 459], lw=1.3)
ov.add_patch(FancyBboxPatch((12, 483), 26, 25, boxstyle='round,pad=0,rounding_size=3', color='#2962ff', lw=0))
ln([19, 23, 26, 29, 31, 27, 23, 20, 19], [499, 503, 499, 496, 491, 488, 492, 495, 499], color='#cfdcff')
ln([10, 40], [515.5, 515.5], color='#363a45')
rect(19, 531, 12, 14)
ln([17, 33], [531, 531])
ln([22, 22, 28, 28], [531, 528, 528, 531])
ln([23, 23], [534, 542])
ln([27, 27], [534, 542])
ov.add_patch(FancyBboxPatch((-3, 392), 9, 45, boxstyle='round,pad=0,rounding_size=3', facecolor='#181c27', edgecolor='#2a2e39', lw=0.8))
ln([2, 4.5, 2], [411, 415, 419], lw=0.8)

## bottom toolbars
txt(64, 751, 'Powered by', 7.1, '#d1d4dc')
txt(118.5, 751, 'TradingView', 7.1, '#3f8fe8')
ln([118.5, 171], [757, 757], color='#3f8fe8', lw=0.7)
ln([182.5, 182.5], [734, 767], color='#2a2e39')
for x, s in zip([201, 224, 248, 272.5, 297, 321, 343.5, 366], ['1D', '5D', '1M', '3M', '6M', '1Y', '5Y', 'All']):
    txt(x, 751, s, 8.4, ha='center')
ln([383, 383], [741, 761], color='#363a45')
rect(395, 744, 13, 14)
ln([395, 408], [748, 748])
ln([397, 403], [757, 757], color='#d1d4dc')
txt(1680, 751, '07:11:44 (UTC+1)', 8.4, ha='center')
ln([1734, 1734], [741, 761], color='#363a45')
txt(1749, 751, '%', 8.6, ha='center')
txt(1773.6, 751, 'log', 8.4, ha='center')
txt(1802, 751, 'auto', 8.4, ha='center')
ln([1826, 1832, 1832], [753, 753, 760], color='#2962ff')
ln([1832, 1832, 1838], [745, 750, 750], color='#2962ff')
ov.add_patch(FancyBboxPatch((950, 763), 20, 8, boxstyle='round,pad=0,rounding_size=2', facecolor='#2a2e39', edgecolor='none'))
ln([956, 960, 964], [769, 765, 769])

## order panel
ov.add_patch(Polygon([[15, 791], [27, 791], [33, 802], [33, 813], [15, 813]], color='#2e7be6', lw=0))
ov.add_patch(Circle((36, 808), 7, facecolor='white', edgecolor=DARK, lw=1.5))
ln([32.5, 39.5], [808, 808], color=DARK, lw=1.2)
ln([36, 36], [804.5, 811.5], color=DARK, lw=1.2)
txt(51, 802, 'New Order', 12.5, '#e6e8ef')
txt(751, 806, 'Positions', 12.4, '#2962ff')
txt(824, 799, '11', 9.5, '#2962ff')
txt(898, 806, 'Orders', 13, '#e6e8ef')
txt(1008, 806, 'Alerts', 13, '#e6e8ef')
txt(1112, 806, 'History', 13, '#e6e8ef')

fig.savefig('out.png', dpi=100, facecolor=fig.get_facecolor())
